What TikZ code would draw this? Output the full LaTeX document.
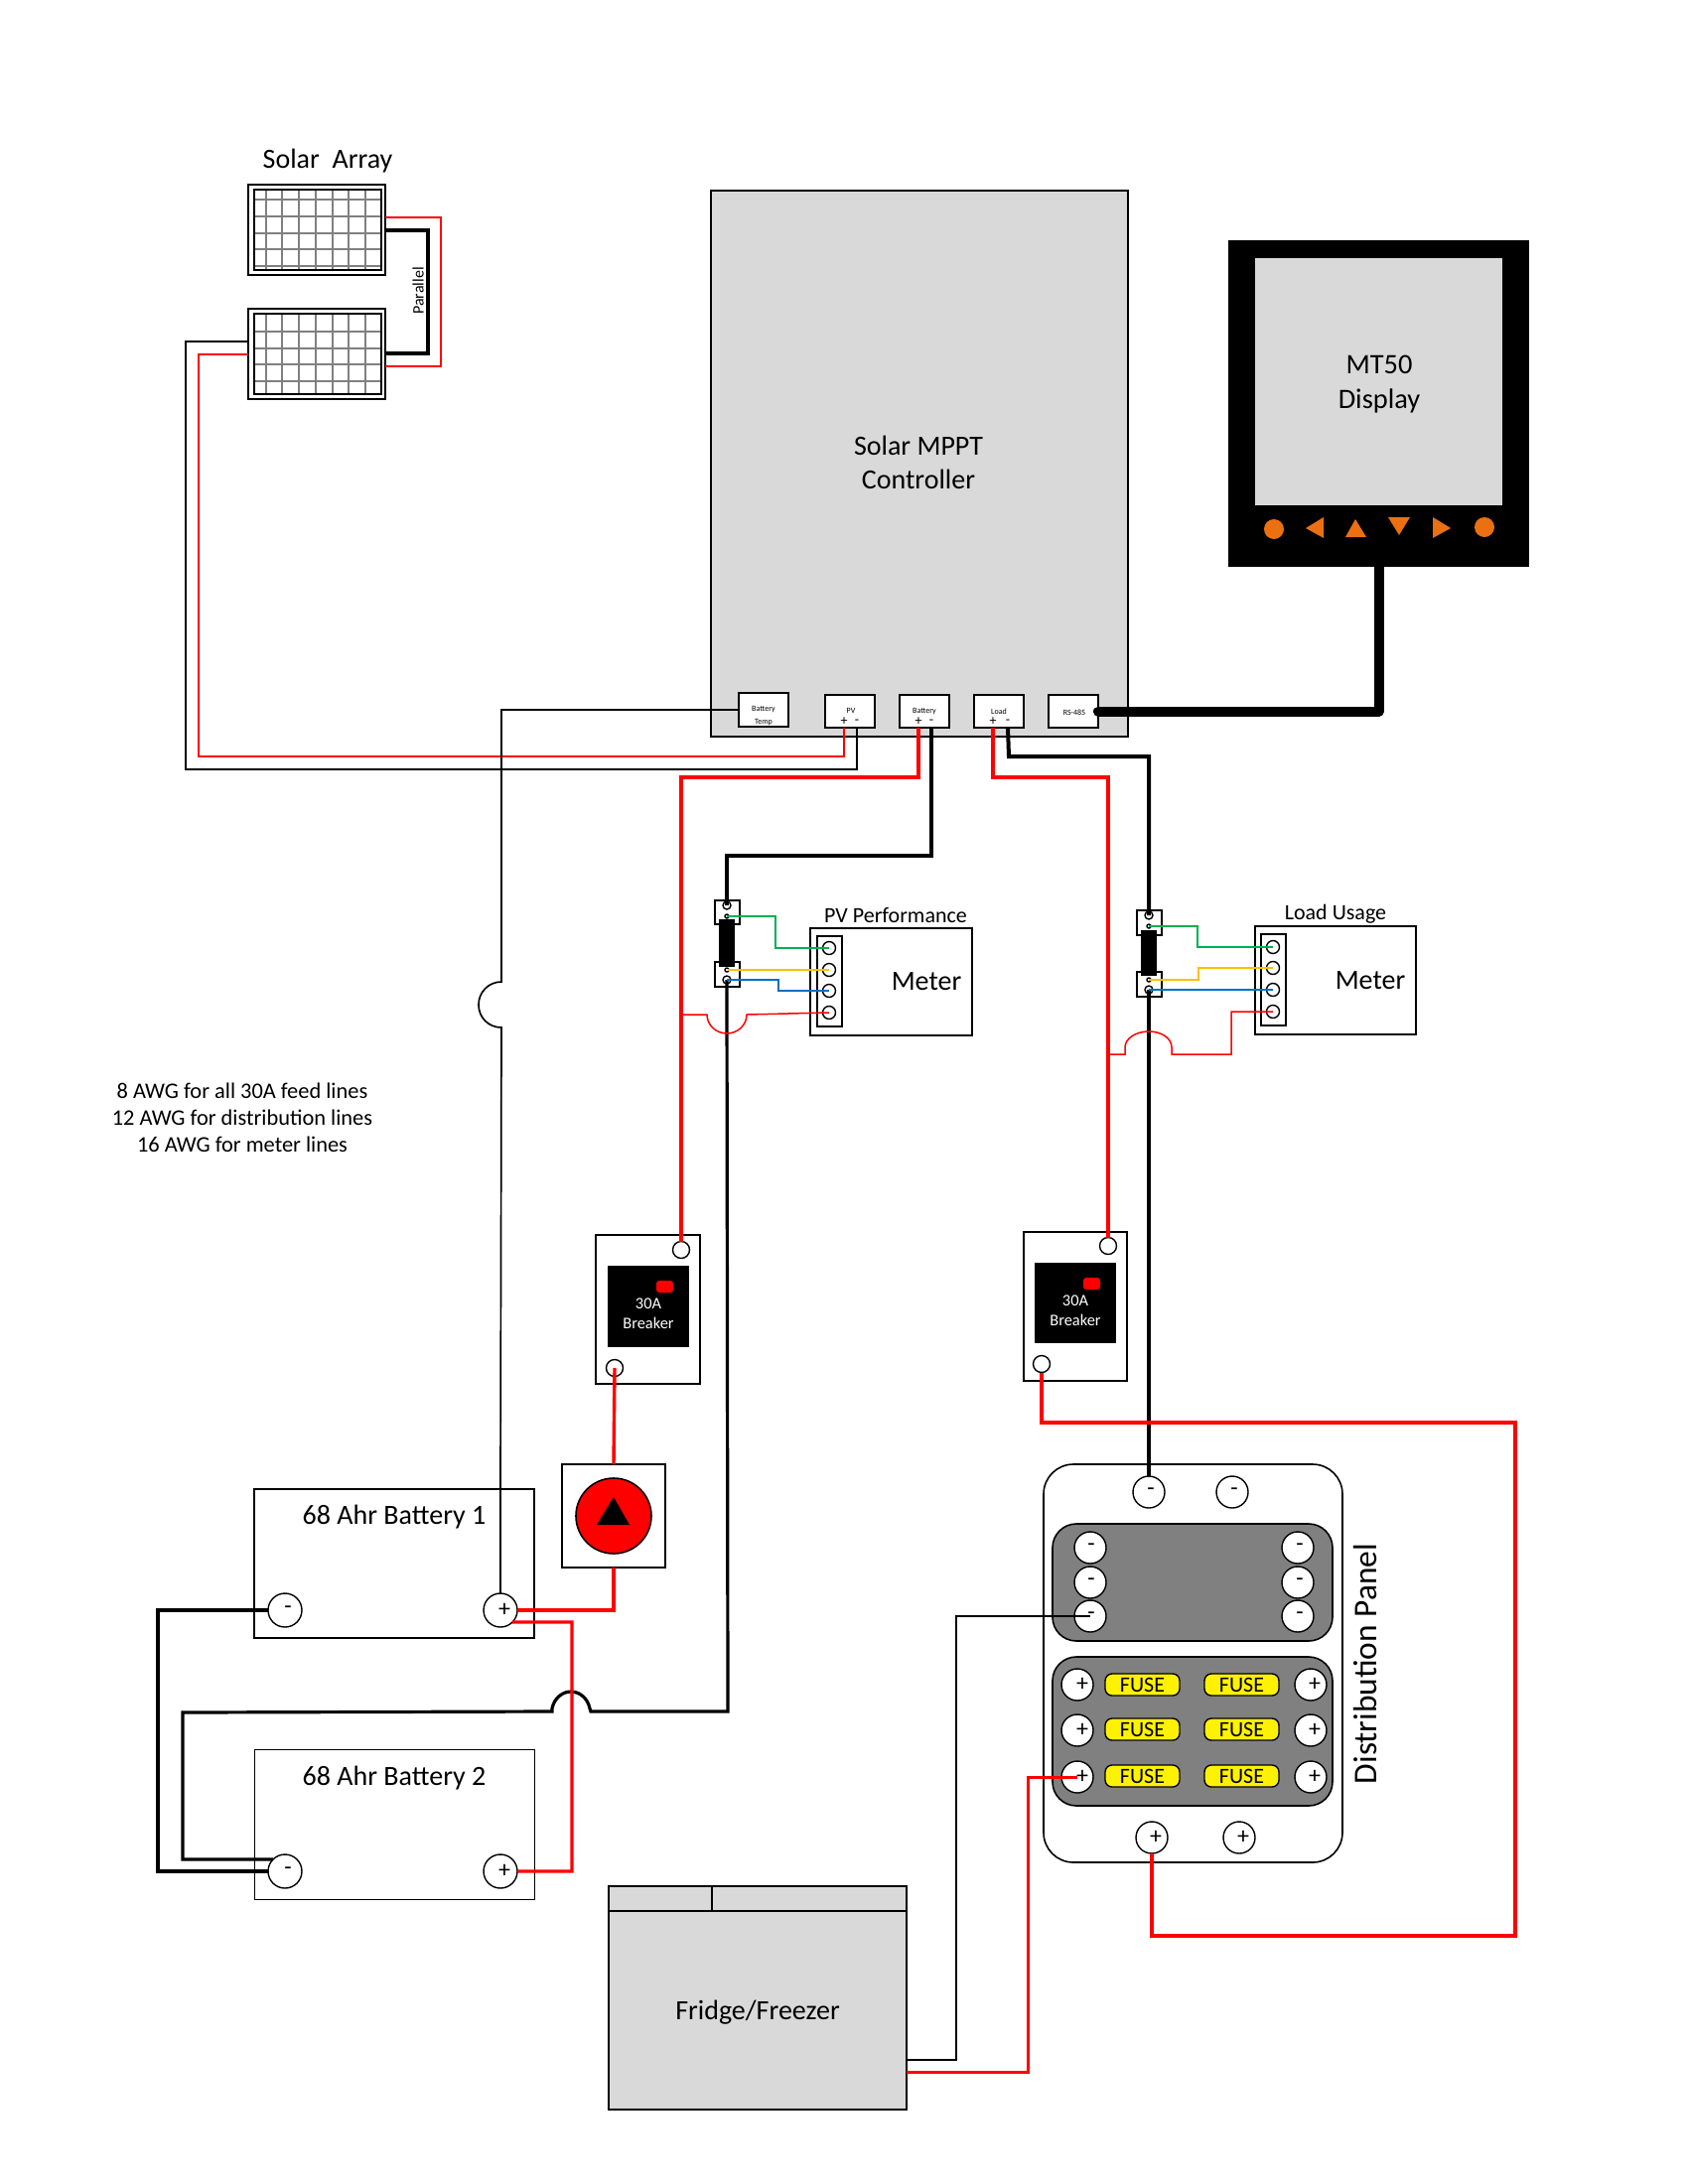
\documentclass[tikz,border=0pt]{standalone}
\usepackage{fontspec}
\setmainfont{Carlito}
\definecolor{panelgrey}{HTML}{D9D9D9}
\definecolor{zonegrey}{HTML}{808080}
\definecolor{btn}{HTML}{EB7011}
\definecolor{wgreen}{HTML}{00B050}
\definecolor{wyellow}{HTML}{FFC000}
\definecolor{wblue}{HTML}{0070C0}
\newcommand\fs[1]{\fontsize{#1}{#1}\selectfont}
\newcommand\fsl[2]{\fontsize{#1}{#2}\selectfont}
\newcommand\bx[7][]{\node[boxn,#1,minimum width={(#5-#3)*0.5pt},minimum height={(#6-#4)*0.5pt}] (#2) at ({(#3+#5)/2},{(#4+#6)/2}) {#7};}
\newcommand\term[6]{\node[termc,minimum size={2*#4*0.5pt}] (#1) at (#2,#3) {};\node[termt] (#1t) at ({#2+#6},#3) {#5};}
\newcommand\hole[4]{\node[termc,minimum size={2*#4*0.5pt}] (#1) at (#2,#3) {};}
\tikzset{
 boxn/.style={draw=black,fill=white,line width=0.8pt,inner sep=0pt,outer sep=0pt,rectangle},
 termc/.style={draw=black,fill=white,line width=0.7pt,circle,inner sep=0pt,outer sep=0pt},
 termt/.style={font=\fs{12},inner sep=0pt},
 txt/.style={inner sep=0pt,align=center,font=\fs{14}},
 ptxt/.style={inner sep=0pt,align=center,font=\fs{4}},
 redw/.style={draw=red,line width=1.7pt,line join=miter},
 redm/.style={draw=red,line width=1.1pt},
 reds/.style={draw=red,line width=0.75pt},
 blkw/.style={draw=black,line width=1.6pt},
 blkm/.style={draw=black,line width=1pt},
 blkt/.style={draw=black,line width=0.85pt},
 sense/.style={line width=0.85pt},
 fuse/.style={boxn,fill=yellow,rounded corners=3.5pt,line width=0.7pt,font=\fs{11}},
 zone/.style={boxn,fill=zonegrey,rounded corners=12pt,line width=0.8pt},
}
\begin{document}
\begin{tikzpicture}[x=0.5pt,y=-0.5pt]
\useasboundingbox (0,0) rectangle (1700,2200);

% ---------- solar array
\node[txt] (arraytitle) at (330,162) {Solar\ \ Array};
\bx{panelA}{250}{186}{388}{277}{}
\bx{panelB}{250}{311}{388}{402}{}
\foreach \x in {268,284,301,318,335,351,368}{
  \draw[zonegrey,line width=0.8pt] (\x,191)--(\x,272);
  \draw[zonegrey,line width=0.8pt] (\x,316)--(\x,397);}
\foreach \y in {201,218,235,251,268}{\draw[zonegrey,line width=0.8pt] (256,\y)--(384,\y);}
\foreach \y in {334,351,367,384}{\draw[zonegrey,line width=0.8pt] (256,\y)--(384,\y);}
\draw[black,line width=1pt] (256,191) rectangle (384,272);
\draw[black,line width=1pt] (256,316) rectangle (384,397);
\node[inner sep=0pt,rotate=90,font=\fs{8}] (parallel) at (421,293) {Parallel};

% ---------- controller
\bx[fill=panelgrey]{mppt}{716}{192}{1136}{742}{}
\node[txt,font=\fsl{14}{17}] (mppttext) at (925,466) {Solar MPPT\\ Controller};
\bx{porttemp}{744}{698}{794}{732}{}
\bx{portpv}{831}{700}{881}{733}{}
\bx{portbat}{906}{700}{956}{733}{}
\bx{portload}{981}{700}{1031}{733}{}
\bx{portrs}{1056}{700}{1106}{733}{}
\node[ptxt] (t1) at (769,715) {Battery};
\node[ptxt] (t2) at (769,728) {Temp};
\node[ptxt] (t3) at (857,716) {PV};
\node[ptxt] (t4) at (931,717) {Battery};
\node[ptxt] (t5) at (1006,717) {Load};
\node[ptxt] (t6) at (1082,718) {RS-485};
\foreach \n/\x/\s in {pvp/850/+,pvm/863/-,batp/925/+,batm/938/-,loadp/1000/+,loadm/1015/-}{
  \node[inner sep=0pt,font=\fs{7}] (\n) at (\x,727) {\s};}

% ---------- display
\bx[fill=black,draw=black]{mt}{1238}{243}{1539}{570}{}
\bx[fill=panelgrey,draw=none]{screen}{1264}{260}{1513}{509}{}
\node[txt,font=\fsl{14.2}{17.5}] (mttext) at (1389,387) {MT50\\ Display};
\fill[btn] (1283,533) circle[radius=5pt];
\fill[btn] (1495,531) circle[radius=5pt];
\fill[btn] (1315,532)--(1333,521)--(1333,542)--cycle;
\fill[btn] (1365,523)--(1376,541)--(1355,541)--cycle;
\fill[btn] (1398,521)--(1420,521)--(1409,539)--cycle;
\fill[btn] (1461,532)--(1443,521)--(1443,542)--cycle;

% ---------- note
\node[txt,font=\fsl{11.2}{13.4}] (note) at (244,1126) {8 AWG for all 30A feed lines\\ 12 AWG for distribution lines\\ 16 AWG for meter lines};

% ---------- PV meter
\bx{shuntAa}{720}{907}{745}{931}{}
\bx{shuntAb}{720}{969}{745}{994}{}
\bx[fill=black]{shuntAbar}{725}{927}{739}{973}{}
\hole{shA1}{732}{912}{4}\hole{shA2}{732}{923}{2}\hole{shA3}{732}{977}{2}\hole{shA4}{732}{987}{4}
\bx{meterA}{816}{935}{979}{1043}{}
\bx{stripA}{823}{943}{848}{1034}{}
\hole{mA1}{835}{955}{6.5}\hole{mA2}{835}{977}{6.5}\hole{mA3}{835}{998}{6.5}\hole{mA4}{835}{1020}{6.5}
\node[txt] (meterAt) at (933,989) {Meter};
\node[txt,font=\fs{11}] (meterAh) at (902,922) {PV Performance};

% ---------- load meter
\bx{shuntBa}{1145}{917}{1170}{942}{}
\bx{shuntBb}{1145}{979}{1170}{1004}{}
\bx[fill=black]{shuntBbar}{1150}{938}{1164}{982}{}
\hole{shB1}{1157}{922}{4}\hole{shB2}{1157}{933}{2}\hole{shB3}{1157}{987}{2}\hole{shB4}{1157}{997}{4}
\bx{meterB}{1264}{933}{1426}{1042}{}
\bx{stripB}{1270}{941}{1295}{1033}{}
\hole{mB1}{1282}{954}{6.5}\hole{mB2}{1282}{975}{6.5}\hole{mB3}{1282}{997}{6.5}\hole{mB4}{1282}{1019}{6.5}
\node[txt] (meterBt) at (1380,988) {Meter};
\node[txt,font=\fs{11}] (meterBh) at (1345,921) {Load Usage};

% ---------- breakers
\bx{brkA}{600}{1244}{705}{1394}{}
\bx[fill=black]{brkAf}{613}{1276}{693}{1356}{}
\bx[fill=red,draw=none,rounded corners=1.5pt]{brkAl}{661}{1290}{678}{1302}{}
\node[text=white,inner sep=0pt,align=center,font=\fsl{8.2}{10}] (brkAt) at (653,1323) {30A\\ Breaker};
\hole{brkAtop}{686}{1259}{8.5}\hole{brkAbot}{619}{1378}{8.5}
\bx{brkB}{1031}{1241}{1135}{1391}{}
\bx[fill=black]{brkBf}{1043}{1273}{1123}{1352}{}
\bx[fill=red,draw=none,rounded corners=1.5pt]{brkBl}{1091}{1287}{1108}{1299}{}
\node[text=white,inner sep=0pt,align=center,font=\fsl{8.2}{10}] (brkBt) at (1083,1320) {30A\\ Breaker};
\hole{brkBtop}{1116}{1255}{8.5}\hole{brkBbot}{1049}{1374}{8.5}

% ---------- switch
\bx[line width=0.6pt]{switch}{566}{1475}{670}{1579}{}
\node[circle,draw=black,fill=red,line width=0.8pt,minimum size=38pt,inner sep=0pt] (swbtn) at (618,1527) {};
\fill[black] (618,1508)--(634,1536)--(601,1536)--cycle;

% ---------- batteries
\bx{batA}{256}{1500}{538}{1650}{}
\bx[line width=0.5pt]{batB}{256}{1762}{538}{1913}{}
\node[txt] (batAt) at (397,1528.5) {68 Ahr Battery 1};
\node[txt] (batBt) at (397,1791.5) {68 Ahr Battery 2};
\term{bAm}{287}{1622}{17}{-}{3}\term{bAp}{504}{1622}{17}{+}{4}
\term{bBm}{287}{1885}{17}{-}{3}\term{bBp}{504}{1885}{17}{+}{4}

% ---------- distribution panel
\bx[rounded corners=15pt]{dist}{1051}{1475}{1352}{1876}{}
\bx[zone]{zoneneg}{1060}{1535}{1342}{1653}{}
\bx[zone]{zonepos}{1060}{1669}{1342}{1819}{}
\term{dT1}{1157}{1503}{16}{-}{2}\term{dT2}{1241}{1503}{16}{-}{2}
\term{dN1}{1098}{1559}{16}{-}{1}\term{dN2}{1098}{1594}{16}{-}{1}\term{dN3}{1098}{1628}{16}{-}{1}
\term{dN4}{1307}{1559}{16}{-}{2}\term{dN5}{1307}{1594}{16}{-}{2}\term{dN6}{1307}{1628}{16}{-}{2}
\term{dP1}{1085}{1697}{16}{+}{5}\term{dP2}{1085}{1743}{16}{+}{5}\term{dP3}{1085}{1790}{16}{+}{5}
\term{dP4}{1320}{1697}{16}{+}{4}\term{dP5}{1320}{1743}{16}{+}{4}\term{dP6}{1320}{1790}{16}{+}{4}
\term{dB1}{1160}{1851}{16}{+}{4}\term{dB2}{1248}{1851}{16}{+}{4}
\bx[fuse]{f1}{1113}{1686}{1188}{1708}{FUSE}
\bx[fuse]{f2}{1113}{1731}{1188}{1753}{FUSE}
\bx[fuse]{f3}{1113}{1778}{1188}{1800}{FUSE}
\bx[fuse]{f4}{1213}{1686}{1288}{1708}{FUSE}
\bx[fuse]{f5}{1213}{1731}{1288}{1753}{FUSE}
\bx[fuse]{f6}{1213}{1778}{1288}{1800}{FUSE}
\node[inner sep=0pt,rotate=90,font=\fs{16.7}] (disttext) at (1375,1676) {Distribution Panel};

% ---------- fridge
\bx[fill=panelgrey]{fridge}{613}{1925}{913}{2125}{}
\bx[fill=panelgrey]{lidA}{613}{1900}{717}{1925}{}
\bx[fill=panelgrey]{lidB}{717}{1900}{913}{1925}{}
\node[txt] (fridget) at (763,2027) {Fridge/Freezer};

% ---------- solar wiring
\draw[redm] (388,219)--(444,219)--(444,369)--(388,369);
\draw[blkw] (388,232)--(431,232)--(431,356)--(388,356);
\draw[redm] (panelB.west|-0,357)--(200,357)--(200,762)--(850,762)--(pvp|-portpv.south);
\draw[blkm] (panelB.west|-0,344)--(187,344)--(187,775)--(863,775)--(pvm|-portpv.south);

% ---------- battery temp sense
\draw[blkt] (porttemp.west|-0,715)--(505,715)--(505,989)
  .. controls (492,989) and (482,999.5) .. (482,1012)
  .. controls (482,1025) and (492,1035) .. (505,1035)
  --(504,1500)--(bAp.north);

% ---------- battery +/- to breaker and shunt
\draw[redw] (batp|-portbat.south)--(925,783)--(686,783)--(brkAtop.north);
\draw[blkw] (batm|-portbat.south)--(938,862)--(732,862)--(shA1.center);
\draw[blkw] (shA4.center)--(733,1724)--(595,1724)--(594,1721)
  .. controls (592,1711) and (584,1704) .. (575,1704)
  .. controls (566,1704) and (558,1711) .. (556,1721)--(556,1724)--(184,1725)--(184,1873)--(bBm.north west);
\draw[redw] (brkAbot.center)--(switch.north);
\draw[redw] (switch.south)--(swbtn|-bAp.east)--(bAp.east);
\draw[redw] (bAp.south east)--(576,1634)--(576,1885)--(bBp.east);
\draw[blkw] (bAm.west)--(159,1622)--(159,1885)--(bBm.west);

% ---------- load wiring
\draw[redw] (loadp|-portload.south)--(1000,783)--(1116,783)--(brkBtop.north);
\draw[blkw,line width=2pt] (loadm|-portload.south)--(1016,762)--(1157,762)--(shB1.center);
\draw[blkw,line width=2pt] (shB4.center)--(dT1.north);
\draw[line width=5pt,line cap=round,line join=round] (portrs.east)-|(mt.south);
\draw[redw,line width=1.6pt] (brkBbot.south)--(1049,1433)--(1526,1433)--(1526,1950)--(1160,1950)--(dB1.south);

% ---------- meter sense lines, PV
\draw[sense,wgreen] (shA2.center)--(781,923)--(781,955)--(mA1.center);
\draw[sense,wyellow] (733,977)--(mA2.center);
\draw[sense,wblue] (shA4.center)--(784,987)--(784,998)--(mA3.center);
\draw[reds] (686,1022)--(712,1022)
  .. controls (712,1032.5) and (721,1041) .. (732,1041)
  .. controls (743,1041) and (752,1032.5) .. (752,1022)
  --(mA4.center);

% ---------- meter sense lines, load
\draw[sense,wgreen] (shB2.center)--(1206,933)--(1206,954)--(mB1.center);
\draw[sense,wyellow] (shB3.center)--(1207,987)--(1207,975)--(mB2.center);
\draw[sense,wblue] (shB4.center)--(mB3.center);
\draw[reds] (1116,1062)--(1133,1062)--(1133,1055)
  .. controls (1133,1046) and (1144,1039) .. (1157,1039)
  .. controls (1170,1039) and (1180,1046) .. (1180,1055)
  --(1180,1062)--(1240,1062)--(1240,1019)--(mB4.center);

% ---------- fridge wiring
\draw[blkm] (fridge.east|-0,2075)--(963,2075)--(963,1628)--(dN3.center);
\draw[redw,line width=1.5pt] (fridge.east|-0,2087)--(1035,2087)--(1035,1790)--(dP3.center);
\end{tikzpicture}
\end{document}
